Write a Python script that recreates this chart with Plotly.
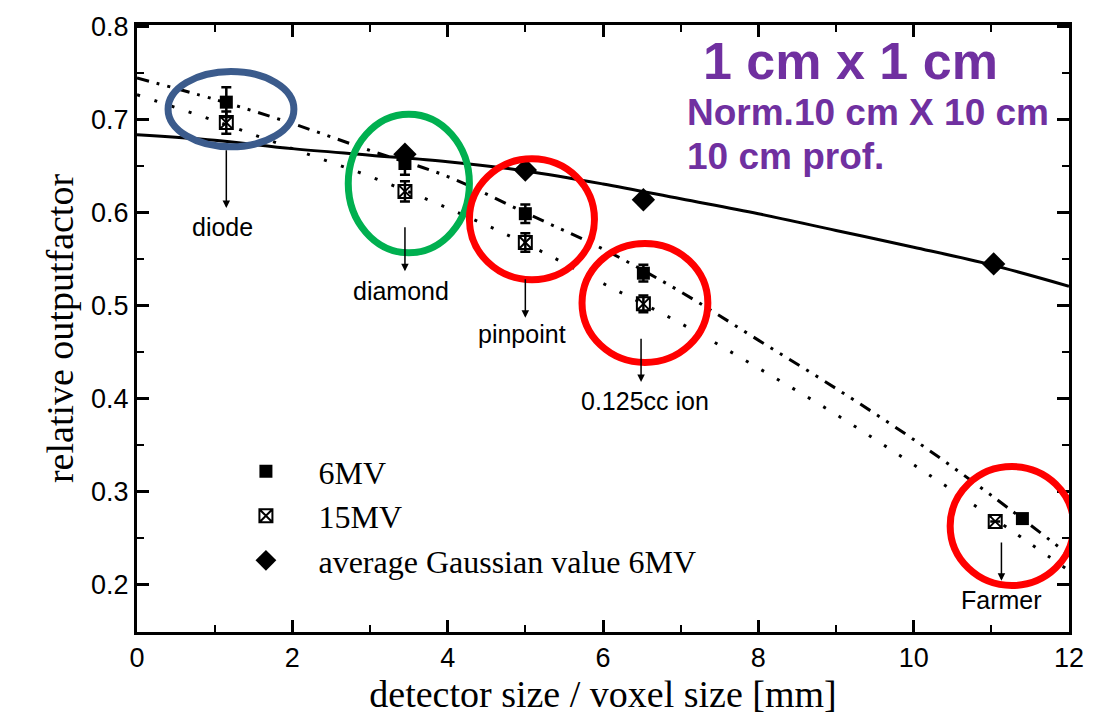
import plotly.graph_objects as go

# ---------------- data ----------------
det_x_6mv = [1.15, 3.45, 5.0, 6.52, 11.4]
of_6mv = [0.719, 0.653, 0.599, 0.535, 0.271]
err_6mv = [0.016, 0.012, 0.010, 0.009, 0.0]

det_x_15mv = [1.15, 3.45, 5.0, 6.52, 11.05]
of_15mv = [0.697, 0.623, 0.568, 0.502, 0.268]
err_15mv = [0.012, 0.011, 0.010, 0.009, 0.0]

gauss_x = [3.45, 5.0, 6.52, 11.03]
gauss_y = [0.663, 0.646, 0.614, 0.545]

fit_x = [0, 1, 2, 3, 4, 5, 6, 7, 8, 9, 10, 11, 12]
fit_gauss = [0.684, 0.678, 0.669, 0.662, 0.655, 0.645, 0.631, 0.615, 0.599, 0.581, 0.563, 0.544, 0.521]
fit_6mv = [0.745, 0.722, 0.696, 0.667, 0.639, 0.600, 0.561, 0.515, 0.463, 0.411, 0.356, 0.296, 0.232]
fit_15mv = [0.727, 0.699, 0.669, 0.639, 0.605, 0.567, 0.524, 0.481, 0.433, 0.383, 0.329, 0.273, 0.215]

det_labels = ["diode", "diamond", "pinpoint", "0.125cc ion", "Farmer"]
arrow_x = [1.15, 3.45, 5.0, 6.49, 11.13]
arrow_top = [0.669, 0.586, 0.530, 0.466, 0.247]
arrow_tip = [0.605, 0.537, 0.487, 0.418, 0.204]
label_x = [1.1, 3.4, 4.96, 6.54, 11.13]
label_y = [0.585, 0.516, 0.470, 0.398, 0.183]

# highlight ellipses: (x0, x1, y0, y1, colour)
ellipses = [
    (0.40, 2.02, 0.671, 0.752, "#3B5B8C"),
    (2.72, 4.28, 0.557, 0.706, "#00B050"),
    (4.28, 5.89, 0.528, 0.658, "#FF0000"),
    (5.73, 7.35, 0.439, 0.567, "#FF0000"),
    (10.47, 12.06, 0.199, 0.327, "#FF0000"),
]

SERIF = "Liberation Serif, Times New Roman, serif"
SANS = "Liberation Sans, Arial, sans-serif"
PURPLE = "#7030A0"

fig = go.Figure()

fig.add_trace(go.Scatter(x=fit_x, y=fit_gauss, mode="lines", line=dict(color="black", width=3, shape="spline"),
                         showlegend=False, hoverinfo="skip"))
fig.add_trace(go.Scatter(x=fit_x, y=fit_6mv, mode="lines",
                         line=dict(color="black", width=3, shape="spline", dash="12px,8px,3px,8px,3px,8px"),
                         showlegend=False, hoverinfo="skip"))
fig.add_trace(go.Scatter(x=fit_x, y=fit_15mv, mode="lines",
                         line=dict(color="black", width=3, shape="spline", dash="3px,15px"),
                         showlegend=False, hoverinfo="skip"))

fig.add_trace(go.Scatter(x=det_x_6mv, y=of_6mv, mode="markers", name="6MV", legendgroup="a",
                         marker=dict(symbol="square", size=13, color="black"),
                         error_y=dict(type="data", array=err_6mv, visible=True, thickness=2.5, width=5, color="black")))
fig.add_trace(go.Scatter(x=det_x_15mv, y=of_15mv, mode="markers", name="15MV", legendgroup="b",
                         marker=dict(symbol="square-x-open", size=13, color="black", line=dict(width=2)),
                         error_y=dict(type="data", array=err_15mv, visible=True, thickness=2.5, width=5, color="black")))
fig.add_trace(go.Scatter(x=gauss_x, y=gauss_y, mode="markers", name="average Gaussian value 6MV", legendgroup="c",
                         marker=dict(symbol="diamond", size=18, color="black")))

shapes = []
for x0, x1, y0, y1, c in ellipses:
    shapes.append(dict(type="circle", xref="x", yref="y", x0=x0, x1=x1, y0=y0, y1=y1,
                       line=dict(color=c, width=7), layer="above"))

annotations = []
for lab, ax_, at, ap, lx, ly in zip(det_labels, arrow_x, arrow_top, arrow_tip, label_x, label_y):
    annotations.append(dict(x=ax_, y=ap, ax=ax_, ay=at, xref="x", yref="y", axref="x", ayref="y",
                            text="", showarrow=True, arrowhead=2, arrowsize=1, arrowwidth=1.5, arrowcolor="black"))
    annotations.append(dict(x=lx, y=ly, xref="x", yref="y", text=lab, showarrow=False,
                            font=dict(family=SANS, size=25, color="black")))

annotations.append(dict(x=0.766, y=0.940, xref="paper", yref="paper", text="<b>1 cm x 1 cm</b>", showarrow=False,
                        xanchor="center", yanchor="middle", font=dict(family=SANS, size=52, color=PURPLE)))
annotations.append(dict(x=0.588, y=0.856, xref="paper", yref="paper", text="<b>Norm.10 cm X 10 cm</b>", showarrow=False,
                        xanchor="left", yanchor="middle", font=dict(family=SANS, size=37, color=PURPLE)))
annotations.append(dict(x=0.588, y=0.783, xref="paper", yref="paper", text="<b>10 cm prof.</b>", showarrow=False,
                        xanchor="left", yanchor="middle", font=dict(family=SANS, size=37, color=PURPLE)))

axis_common = dict(showline=True, linecolor="black", linewidth=3, mirror="ticks", ticks="inside",
                   tickcolor="black", tickwidth=2.5, ticklen=12, showgrid=False, zeroline=False,
                   tickfont=dict(family=SANS, size=27, color="black"))

fig.update_layout(
    width=1096, height=715,
    margin=dict(l=137, r=20, t=20, b=83),
    paper_bgcolor="white", plot_bgcolor="white",
    xaxis=dict(range=[0, 12], dtick=2, tick0=0,
               minor=dict(dtick=1, ticks="inside", ticklen=7, tickwidth=2, tickcolor="black"),
               title=dict(text="detector size / voxel size [mm]", font=dict(family=SERIF, size=38, color="black"), standoff=0),
               **axis_common),
    yaxis=dict(range=[0.149, 0.802], dtick=0.1, tick0=0.2, tickformat=".1f",
               minor=dict(dtick=0.05, ticks="inside", ticklen=7, tickwidth=2, tickcolor="black"),
               title=dict(text="relative outputfactor", font=dict(family=SERIF, size=38, color="black"), standoff=6),
               **axis_common),
    legend=dict(x=0.082, y=0.31, xanchor="left", yanchor="top", bgcolor="rgba(0,0,0,0)",
                font=dict(family=SERIF, size=32, color="black"), traceorder="grouped", tracegroupgap=0,
                itemwidth=95),
    shapes=shapes,
    annotations=annotations,
)

fig.write_html("out.html")
